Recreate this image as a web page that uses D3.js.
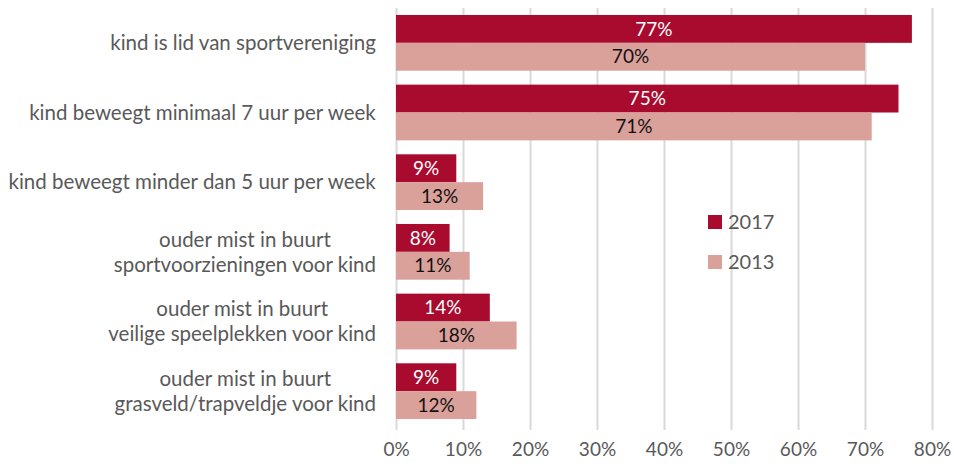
<!DOCTYPE html>
<html>
<head>
<meta charset="utf-8">
<script src="https://cdn.jsdelivr.net/npm/d3@7"></script>
<style>
  body { margin: 0; background: #fff; }
  svg text { font-family: Lato, "Open Sans", sans-serif; }
</style>
</head>
<body>
<div id="chart"></div>
<script>
// Data
var categories = [
  ["kind is lid van sportvereniging"],
  ["kind beweegt minimaal 7 uur per week"],
  ["kind beweegt minder dan 5 uur per week"],
  ["ouder mist in buurt", "sportvoorzieningen voor kind"],
  ["ouder mist in buurt", "veilige speelplekken voor kind"],
  ["ouder mist in buurt", "grasveld/trapveldje voor kind"]
];
var values2017 = [77, 75, 9, 8, 14, 9];
var values2013 = [70, 71, 13, 11, 18, 12];
var seriesNames = ["2017", "2013"];
var tickValues = [0, 10, 20, 30, 40, 50, 60, 70, 80];

var COLORS = { s2017: "#A80B2E", s2013: "#DAA19B", grid: "#D9D9D9", text: "#595959" };

var width = 954, height = 468;
var margins = { top: 8, right: 22, bottom: 42, left: 396 };
var chartWidth = width - margins.left - margins.right;
var chartHeight = height - margins.top - margins.bottom;

var svg = d3.select("#chart").append("svg")
  .attr("width", width)
  .attr("height", height);

var chartElement = svg.append("g")
  .attr("transform", "translate(" + margins.left + "," + margins.top + ")");

var xScale = d3.scaleLinear().domain([0, 80]).range([0, chartWidth]);
var yScale = d3.scaleBand()
  .domain(d3.range(categories.length))
  .range([0, chartHeight])
  .paddingInner(0.2)
  .paddingOuter(0.1);
var subScale = d3.scaleBand()
  .domain(seriesNames)
  .range([0, yScale.bandwidth()]);

// Grid
var xAxis = d3.axisBottom(xScale)
  .tickValues(tickValues)
  .tickSize(-chartHeight - 4)
  .tickFormat(d => d + "%");

var axisG = chartElement.append("g")
  .attr("class", "x axis")
  .attr("transform", "translate(0," + (chartHeight + 4) + ")")
  .call(xAxis);
axisG.select(".domain").remove();
axisG.selectAll("line").attr("stroke", COLORS.grid).attr("stroke-width", 2);
axisG.selectAll("text")
  .attr("fill", COLORS.text)
  .attr("font-size", 19)
  .attr("dy", 0)
  .attr("y", 26);

// Bars
var rows = categories.map((c, i) => ({ i: i, v2017: values2017[i], v2013: values2013[i] }));

var groups = chartElement.append("g").attr("class", "bars")
  .selectAll("g")
  .data(rows)
  .enter()
  .append("g")
  .attr("transform", d => "translate(0," + yScale(d.i) + ")");

[["2017", "v2017", COLORS.s2017, "#fff"], ["2013", "v2013", COLORS.s2013, "#111"]].forEach(function(s) {
  groups.append("rect")
    .attr("x", xScale(0))
    .attr("y", subScale(s[0]))
    .attr("width", d => xScale(d[s[1]]) - xScale(0))
    .attr("height", subScale.bandwidth())
    .attr("fill", s[2]);

  groups.append("text")
    .attr("x", d => (xScale(0) + xScale(d[s[1]])) / 2)
    .attr("y", subScale(s[0]) + subScale.bandwidth() / 2)
    .attr("dy", "0.35em")
    .attr("text-anchor", "middle")
    .attr("font-size", 19)
    .attr("fill", s[3])
    .text(d => d[s[1]] + "%");
});

// Category labels (lines centred within the block, block right-aligned)
var labelRight = -20;
var lineHeight = 25;
var labelG = chartElement.append("g").attr("class", "labels");
categories.forEach(function(lines, i) {
  var cy = yScale(i) + yScale.bandwidth() / 2;
  var t = labelG.append("text")
    .attr("fill", COLORS.text)
    .attr("font-size", 20.5)
    .attr("text-anchor", "middle");
  lines.forEach(function(line, j) {
    t.append("tspan")
      .attr("x", 0)
      .attr("y", cy + (j - (lines.length - 1) / 2) * lineHeight)
      .attr("dy", "0.35em")
      .text(line);
  });
  var w = t.node().getBBox().width;
  t.selectAll("tspan").attr("x", labelRight - w / 2);
});

// Legend
var legend = svg.append("g")
  .attr("transform", "translate(708,215)");
[["2017", COLORS.s2017], ["2013", COLORS.s2013]].forEach(function(s, i) {
  legend.append("rect")
    .attr("x", 0)
    .attr("y", i * 40)
    .attr("width", 14)
    .attr("height", 14)
    .attr("fill", s[1]);
  legend.append("text")
    .attr("x", 20)
    .attr("y", i * 40 + 7)
    .attr("dy", "0.35em")
    .attr("font-size", 20)
    .attr("fill", COLORS.text)
    .text(s[0]);
});
</script>
</body>
</html>
